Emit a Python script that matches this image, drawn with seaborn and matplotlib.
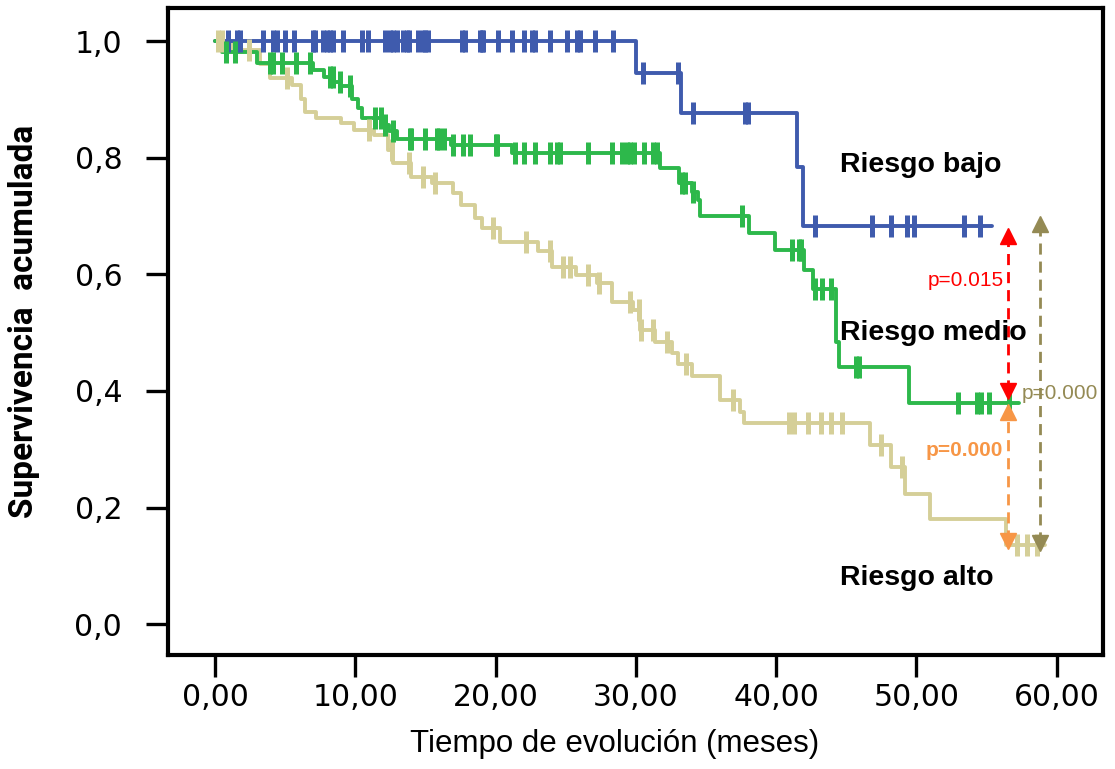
import numpy as np
import pandas as pd
import matplotlib
matplotlib.use("Agg")
import matplotlib.pyplot as plt
import seaborn as sns

# Kaplan-Meier steps:
# time of each drop (months) and cumulative survival right after it
bajo_t = [0, 30.0, 33.2, 41.5, 41.9]
bajo_s = [1.0, 0.945, 0.877, 0.784, 0.683]
bajo_fin = 55.4
bajo_cens = [0.9, 1.6, 1.8, 3.4, 4.1, 4.4, 5.0, 5.6, 7.0, 7.1, 7.7, 8.0, 8.2,
             8.4, 9.1, 10.5, 10.9, 12.1, 12.5, 12.7, 13.0, 13.4, 13.7, 13.8,
             14.5, 14.8, 15.0, 15.2, 17.6, 17.8, 18.9, 19.0, 19.1, 20.2, 21.2,
             22.0, 22.6, 22.8, 23.9, 25.1, 25.8, 26.0, 27.1, 28.4, 30.5, 33.0,
             34.1, 37.8, 38.0, 42.8, 46.8, 48.2, 49.3, 49.8, 53.4, 54.5]

medio_t = [0, 0.5, 3.0, 7.0, 7.8, 8.5, 9.0, 9.8, 10.2, 10.5, 12.0, 12.4, 13.0,
           16.8, 21.2, 31.7, 33.1, 34.0, 34.4, 34.6, 38.1, 39.9, 42.0, 42.6,
           44.3, 44.5, 49.5]
medio_s = [1.0, 0.981, 0.963, 0.950, 0.939, 0.930, 0.922, 0.900, 0.885, 0.868,
           0.856, 0.845, 0.832, 0.822, 0.808, 0.782, 0.756, 0.741, 0.727, 0.700,
           0.671, 0.641, 0.607, 0.575, 0.484, 0.441, 0.379]
medio_fin = 57.3
medio_cens = [0.8, 1.4, 3.9, 4.1, 4.8, 5.8, 6.8, 8.2, 8.4, 8.9, 9.6, 11.4, 11.8,
              12.1, 12.7, 13.9, 14.0, 15.0, 15.8, 16.0, 16.3, 17.0, 17.7, 18.2,
              20.0, 20.1, 21.4, 22.0, 22.8, 23.9, 24.4, 24.6, 26.6, 28.3, 29.0,
              29.4, 29.6, 29.9, 30.6, 31.2, 31.5, 33.3, 33.5, 34.1, 37.6, 41.1,
              41.6, 41.8, 42.8, 43.3, 43.9, 45.7, 45.9, 53.0, 54.3, 54.6, 55.2,
              56.6]

alto_t = [0, 1.2, 3.2, 3.9, 5.5, 6.1, 6.4, 7.2, 9.0, 9.9, 11.3, 12.3, 12.7,
          14.0, 15.5, 17.0, 17.5, 18.5, 19.0, 20.3, 23.0, 24.0, 25.7, 27.2,
          28.3, 29.8, 30.3, 31.4, 32.6, 33.0, 34.0, 36.0, 37.4, 37.7, 46.7,
          48.2, 49.2, 51.0, 56.4]
alto_s = [1.0, 0.985, 0.960, 0.936, 0.925, 0.900, 0.878, 0.868, 0.859, 0.847,
          0.839, 0.813, 0.791, 0.767, 0.756, 0.739, 0.719, 0.696, 0.679, 0.655,
          0.640, 0.612, 0.599, 0.585, 0.552, 0.539, 0.504, 0.484, 0.465, 0.446,
          0.425, 0.384, 0.364, 0.345, 0.307, 0.270, 0.224, 0.181, 0.135]
alto_fin = 59.2
alto_cens = [0.2, 0.5, 2.4, 5.1, 11.0, 12.6, 13.8, 14.8, 15.7, 19.8, 22.2, 23.9,
             24.8, 25.3, 26.6, 27.4, 29.6, 30.2, 30.4, 31.2, 32.2, 33.6, 36.9,
             40.9, 41.3, 42.3, 43.2, 43.9, 44.7, 47.5, 49.0, 57.2, 57.9, 58.6]

# log-rank comparisons drawn as double arrows on the right
p_textos = ["p=0.015", "p=0.000", "p=0.000"]
p_colores = ["#FF0000", "#F79646", "#948A54"]
flecha_t = [56.5, 56.5, 58.8]
flecha_lo = [0.400, 0.142, 0.139]
flecha_hi = [0.665, 0.364, 0.686]

x_ticks = [0, 10, 20, 30, 40, 50, 60]
x_labels = ["0,00", "10,00", "20,00", "30,00", "40,00", "50,00", "60,00"]
y_ticks = [0.0, 0.2, 0.4, 0.6, 0.8, 1.0]
y_labels = ["0,0", "0,2", "0,4", "0,6", "0,8", "1,0"]

GRUPOS = ["Riesgo alto", "Riesgo bajo", "Riesgo medio"]
COLORES = {"Riesgo bajo": "#3F5BAD", "Riesgo medio": "#2DB84B",
           "Riesgo alto": "#D5CF98"}


def curva(nombre, t, s, fin):
    # add the last follow-up point so the step runs out to the end
    return pd.DataFrame({"tiempo": list(t) + [fin],
                         "superv": list(s) + [s[-1]],
                         "grupo": nombre})


def censuras(nombre, t, s, cens):
    idx = np.searchsorted(t, cens, side="right") - 1
    return pd.DataFrame({"tiempo": cens,
                         "superv": np.asarray(s)[idx],
                         "grupo": nombre})


curvas = pd.concat([
    curva("Riesgo bajo", bajo_t, bajo_s, bajo_fin),
    curva("Riesgo medio", medio_t, medio_s, medio_fin),
    curva("Riesgo alto", alto_t, alto_s, alto_fin),
], ignore_index=True)

marcas = pd.concat([
    censuras("Riesgo bajo", bajo_t, bajo_s, bajo_cens),
    censuras("Riesgo medio", medio_t, medio_s, medio_cens),
    censuras("Riesgo alto", alto_t, alto_s, alto_cens),
], ignore_index=True)

sns.set_style("ticks")
plt.rcParams.update({"text.color": "black", "axes.labelcolor": "black",
                     "xtick.color": "black", "ytick.color": "black",
                     "xtick.labelcolor": "black", "ytick.labelcolor": "black"})
fig = plt.figure(figsize=(11.15, 7.69), dpi=100)
ax = fig.add_axes([0.1507, 0.1482, 0.8385, 0.8414])

for g in GRUPOS:
    sns.lineplot(data=curvas[curvas.grupo == g], x="tiempo", y="superv",
                 color=COLORES[g], drawstyle="steps-post", estimator=None,
                 sort=False, linewidth=2.8, legend=False, ax=ax)
    sns.scatterplot(data=marcas[marcas.grupo == g], x="tiempo", y="superv",
                    color=COLORES[g], marker="|", s=230, linewidth=3.6,
                    legend=False, ax=ax, zorder=3)

# dashed double arrows
for xt, lo, hi, col in zip(flecha_t, flecha_lo, flecha_hi, p_colores):
    ax.plot([xt, xt], [lo, hi], color=col, lw=2, ls=(0, (4, 2.5)), zorder=4)
    ax.plot([xt], [hi], marker="^", ms=11, color=col, ls="none", zorder=5)
    ax.plot([xt], [lo], marker="v", ms=11, color=col, ls="none", zorder=5)

ax.text(56.2, 0.59, p_textos[0], color=p_colores[0], fontsize=15,
        family="Liberation Sans", ha="right", va="center")
ax.text(56.2, 0.297, p_textos[1], color=p_colores[1], fontsize=15,
        family="Liberation Sans", fontweight="bold", ha="right", va="center")
ax.text(57.5, 0.396, p_textos[2], color=p_colores[2], fontsize=15,
        family="Liberation Sans", ha="left", va="center", zorder=6)

for nombre, yy in zip(["Riesgo bajo", "Riesgo medio", "Riesgo alto"],
                      [0.787, 0.50, 0.079]):
    ax.text(44.55, yy, nombre, fontsize=20.5, family="Liberation Sans",
            fontweight="bold", color="black", ha="left", va="center",
            zorder=6)

ax.set_xlim(-3.35, 63.3)
ax.set_ylim(-0.053, 1.0566)
ax.set_xticks(x_ticks)
ax.set_xticklabels(x_labels, family="DejaVu Sans", fontsize=21.5)
ax.set_yticks(y_ticks)
ax.set_yticklabels(y_labels, family="DejaVu Sans", fontsize=21.5)
ax.tick_params(axis="both", direction="out", length=16, width=2.4,
               color="black")
ax.tick_params(axis="y", pad=17)
ax.tick_params(axis="x", pad=4)

for sp in ax.spines.values():
    sp.set_linewidth(3)
    sp.set_color("black")

ax.set_xlabel("Tiempo de evolución (meses)", family="Liberation Sans",
              fontsize=22.5, color="black")
ax.xaxis.set_label_coords(0.478, -0.115)
ax.set_ylabel("Supervivencia  acumulada", family="Roboto",
              fontweight="bold", fontsize=24, color="black")
ax.yaxis.set_label_coords(-0.137, 0.515)

fig.savefig("out.png", dpi=100)
